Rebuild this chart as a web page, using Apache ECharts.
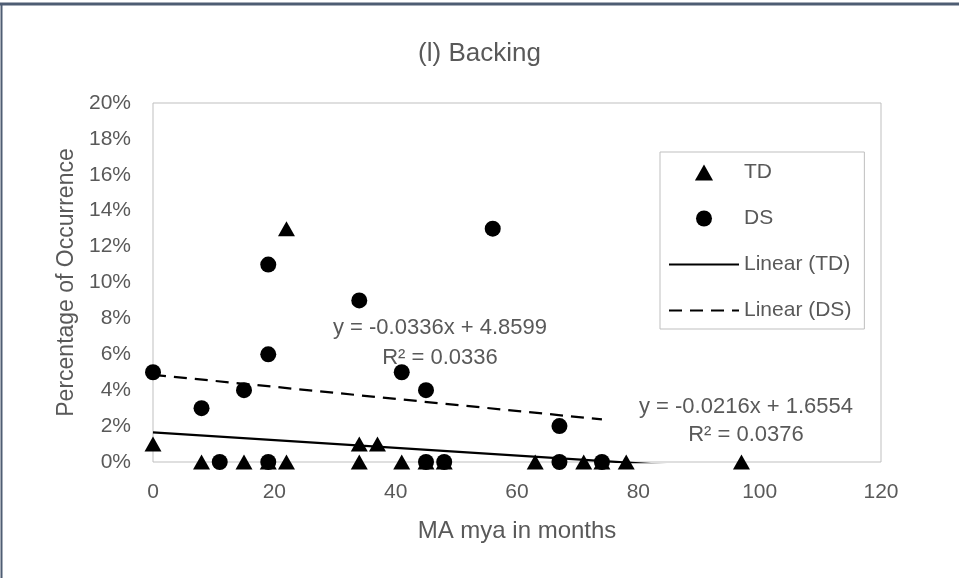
<!DOCTYPE html>
<html>
<head>
<meta charset="utf-8">
<script src="https://cdn.jsdelivr.net/npm/echarts@6/dist/echarts.min.js"></script>
<style>
  html, body { margin: 0; padding: 0; background: #ffffff; }
  #chart { width: 959px; height: 578px; }
</style>
</head>
<body>
<div id="chart"></div>
<script>
// Scatter data: age in months (x) and percentage of occurrence (y)
const tdX = [0, 8, 15, 19, 22, 22, 34, 34, 37, 41, 45, 48, 63, 71, 74, 78, 97];
const tdY = [1, 0, 0, 0, 0, 13, 1, 0, 1, 0, 0, 0, 0, 0, 0, 0, 0];
const dsX = [0, 8, 11, 15, 19, 19, 19, 34, 41, 45, 45, 48, 56, 67, 67, 74];
const dsY = [5, 3, 0, 4, 11, 6, 0, 9, 5, 4, 0, 0, 13, 2, 0, 0];

// Linear trend fits
const tdSlope = -0.0216, tdIntercept = 1.6554, tdR2 = 0.0376;
const dsSlope = -0.0336, dsIntercept = 4.8599, dsR2 = 0.0336;

// Axis ranges
const xTicks = { min: 0, max: 120, step: 20 };
const yTicks = { min: 0, max: 20, step: 2 };

const pairs = (xs, ys) => xs.map((x, i) => [x, ys[i]]);
const trend = (xs, m, b) => {
  const lo = Math.min(...xs), hi = Math.max(...xs);
  return [[lo, b + m * lo], [hi, b + m * hi]];
};
const eqText = (m, b, r2) =>
  'y = ' + m.toFixed(4) + 'x + ' + b.toFixed(4) + '\nR\u00B2 = ' + r2.toFixed(4);

const FONT = '"Liberation Sans", Arial, sans-serif';
const TEXT = '#595959';
const triPath = 'path://M8.5,0 L17,15 L0,15 Z';
const dotPath = 'path://M8,0 A8,8 0 1,1 7.999,0 Z';
const noSymbol = { color: 'rgba(0,0,0,0)', borderWidth: 0, opacity: 0 };

const chart = echarts.init(document.getElementById('chart'), null, { renderer: 'canvas' });

chart.setOption({
  backgroundColor: '#ffffff',
  animation: false,
  textStyle: { fontFamily: FONT },
  title: {
    text: '(l) Backing',
    left: 'center',
    top: 36,
    textStyle: { fontFamily: FONT, fontSize: 26, fontWeight: 'normal', color: TEXT }
  },
  grid: {
    left: 153, right: 78, top: 103, bottom: 116,
    show: true, borderColor: '#bfbfbf', borderWidth: 1, backgroundColor: 'transparent'
  },
  legend: {
    orient: 'vertical',
    left: 660,
    top: 152,
    padding: [10, 13, 8, 8],
    borderColor: '#bfbfbf',
    borderWidth: 1,
    itemGap: 25,
    itemWidth: 70,
    itemHeight: 16,
    textStyle: { fontFamily: FONT, fontSize: 21, color: TEXT, lineHeight: 21 },
    data: [
      { name: 'TD', icon: triPath, itemStyle: { color: '#000000', opacity: 1 } },
      { name: 'DS', icon: dotPath, itemStyle: { color: '#000000', opacity: 1 } },
      { name: 'Linear (TD)', itemStyle: noSymbol },
      { name: 'Linear (DS)', itemStyle: noSymbol }
    ]
  },
  xAxis: {
    type: 'value',
    min: xTicks.min, max: xTicks.max, interval: xTicks.step,
    name: 'MA mya in months',
    nameLocation: 'middle',
    nameGap: 57,
    nameTextStyle: { fontFamily: FONT, fontSize: 24, color: TEXT },
    axisLine: { show: false },
    axisTick: { show: false },
    splitLine: { show: false },
    axisLabel: { fontFamily: FONT, fontSize: 21, color: TEXT, margin: 20 }
  },
  yAxis: {
    type: 'value',
    min: yTicks.min, max: yTicks.max, interval: yTicks.step,
    name: 'Percentage of Occurrence',
    nameLocation: 'middle',
    nameGap: 72,
    nameTextStyle: { fontFamily: FONT, fontSize: 23, color: TEXT },
    axisLine: { show: false },
    axisTick: { show: false },
    splitLine: { show: false },
    axisLabel: { fontFamily: FONT, fontSize: 21, color: TEXT, margin: 22, formatter: '{value}%' }
  },
  series: [
    {
      name: 'TD', type: 'scatter', z: 2,
      symbol: triPath, symbolSize: [17, 15], symbolKeepAspect: false,
      itemStyle: { color: '#000000', opacity: 1 },
      data: pairs(tdX, tdY)
    },
    {
      name: 'DS', type: 'scatter', z: 3,
      symbol: 'circle', symbolSize: 16,
      itemStyle: { color: '#000000', opacity: 1 },
      data: pairs(dsX, dsY)
    },
    {
      name: 'Linear (TD)', type: 'line', z: 4,
      symbol: 'none', clip: true, silent: true,
      itemStyle: { color: '#000000' },
      lineStyle: { color: '#000000', width: 2.25, type: 'solid' },
      data: trend(tdX, tdSlope, tdIntercept)
    },
    {
      name: 'Linear (DS)', type: 'line', z: 4,
      symbol: 'none', clip: true, silent: true,
      itemStyle: { color: '#000000' },
      lineStyle: { color: '#000000', width: 2.25, type: [13, 8] },
      data: trend(dsX, dsSlope, dsIntercept)
    }
  ],
  graphic: [
    {
      type: 'text', x: 440, y: 343, z: 10,
      style: {
        text: eqText(dsSlope, dsIntercept, dsR2),
        fontFamily: FONT, fontSize: 22, fill: TEXT,
        align: 'center', verticalAlign: 'middle', lineHeight: 30
      }
    },
    {
      type: 'text', x: 746, y: 421, z: 10,
      style: {
        text: eqText(tdSlope, tdIntercept, tdR2),
        fontFamily: FONT, fontSize: 22, fill: TEXT,
        align: 'center', verticalAlign: 'middle', lineHeight: 28
      }
    },
    // outer frame: top and left edges
    {
      type: 'line', z: 20,
      shape: { x1: 0, y1: 4, x2: 959, y2: 4 },
      style: { stroke: '#4e5d73', lineWidth: 3 }
    },
    {
      type: 'line', z: 20,
      shape: { x1: 1.5, y1: 3, x2: 1.5, y2: 578 },
      style: { stroke: '#4e5d73', lineWidth: 2 }
    }
  ]
});
</script>
</body>
</html>
